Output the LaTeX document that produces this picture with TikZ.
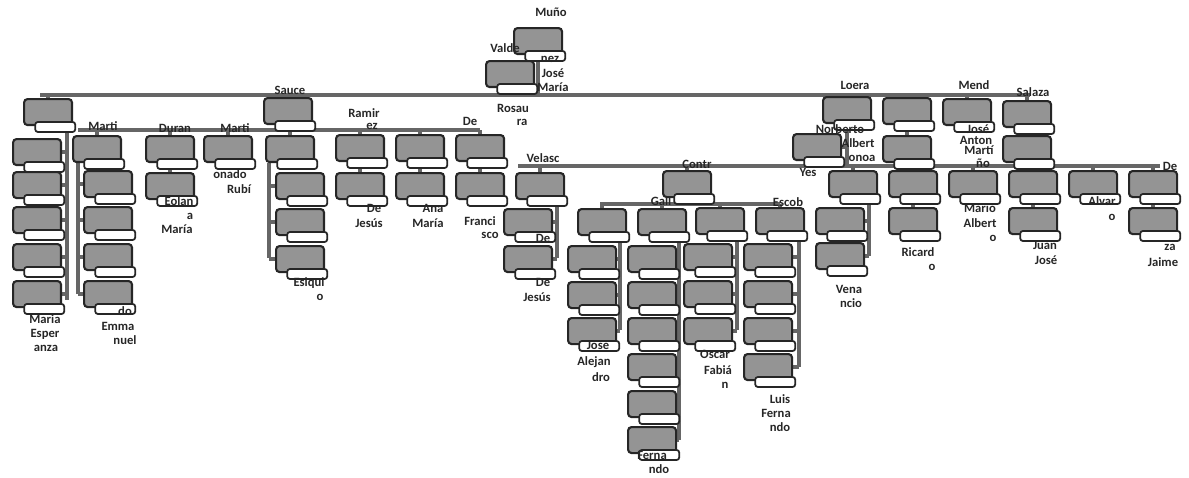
\documentclass[tikz,border=0pt]{standalone}
\usepackage{fontspec}
\setmainfont{Carlito}
\usetikzlibrary{backgrounds,calc}
\tikzset{
 pbox/.style={draw=black!85, line width=1.2pt, fill=black!42, rounded corners=2pt, minimum width=0.96cm, minimum height=0.52cm, inner sep=0pt, anchor=north west},
 sbox/.style={draw=black!85, line width=1pt, fill=white, rounded corners=1.5pt, minimum width=0.8cm, minimum height=0.2cm, inner sep=0pt, anchor=north east},
 conn/.style={draw=black!60, line width=2.2pt},
 lbl/.style={font=\fontsize{7.2}{8}\selectfont\bfseries, text=black!85, inner sep=0pt},
}
\newcommand\bx[3]{\node[pbox] (#1) at (#2,#3) {}; \node[sbox] (#1s) at ([xshift=0.06cm,yshift=0.1cm]#1.south east) {};}
\begin{document}
\begin{tikzpicture}[x=0.02cm,y=-0.02cm]
\useasboundingbox (0,0) rectangle (1189,477);
% root chain
\bx{root}{513}{27}
\bx{asst}{485}{60}
% level 1
\bx{va}{23}{98}
\bx{sa}{263}{97}
\bx{lo}{822}{96}
\bx{ro}{882}{97}
\bx{me}{942}{98}
\bx{sz}{1002}{100}
% bus 2
\bx{ma1}{72}{135}
\bx{du}{145}{135}
\bx{ma2}{203}{135}
\bx{sb}{265}{135}
\bx{ra}{335}{134}
\bx{an}{395}{134}
\bx{de}{455}{134}
% va column
\bx{va1}{12}{138}
\bx{va2}{12}{171}
\bx{va3}{12}{206}
\bx{va4}{12}{243}
\bx{va5}{12}{280}
% ma1 column
\bx{mi1}{83}{170}
\bx{mi2}{83}{206}
\bx{mi3}{83}{243}
\bx{mi4}{83}{280}
\bx{du1}{145}{172}
\bx{sb1}{275}{172}
\bx{sb2}{275}{208}
\bx{sb3}{275}{245}
\bx{ra1}{335}{172}
\bx{an1}{395}{172}
\bx{de1}{455}{172}
\bx{ro1}{882}{135}
\bx{sz1}{1002}{135}
\bx{no}{792}{133}
% bus 3
\bx{ve}{515}{172}
\bx{ve1}{503}{208}
\bx{ve2}{503}{245}
\bx{co}{662}{170}
\bx{di}{577}{208}
\bx{di1}{567}{245}
\bx{di2}{567}{281}
\bx{di3}{567}{317}
\bx{ga}{637}{208}
\bx{ga1}{627}{245}
\bx{ga2}{627}{281}
\bx{ga3}{627}{317}
\bx{ga4}{627}{353}
\bx{ga5}{627}{390}
\bx{ga6}{627}{426}
\bx{mn}{695}{207}
\bx{mn1}{683}{243}
\bx{mn2}{683}{280}
\bx{mn3}{683}{317}
\bx{es}{755}{207}
\bx{es1}{743}{243}
\bx{es2}{743}{280}
\bx{es3}{743}{317}
\bx{es4}{743}{353}
\bx{ye}{828}{170}
\bx{ye1}{815}{207}
\bx{ye2}{815}{242}
\bx{ri}{888}{170}
\bx{ri1}{888}{207}
\bx{fl}{948}{170}
\bx{ju}{1008}{170}
\bx{ju1}{1008}{207}
\bx{al}{1068}{170}
\bx{ja}{1128}{170}
\bx{ja1}{1128}{207}
% connectors
\coordinate (b1L) at (40,95);
\coordinate (b1R) at (1030,95);
\coordinate (b2L) at (78,130);
\coordinate (b2R) at (480,130);
\coordinate (b3L) at (518,166);
\coordinate (b3R) at (1160,166);
\coordinate (b4L) at (600,204);
\coordinate (b4R) at (780,204);
\coordinate (vaL) at (67,300);
\coordinate (m1L) at (78,294);
\coordinate (sbL) at (269,258);
\coordinate (veL) at (557,258);
\coordinate (diL) at (620,330);
\coordinate (gaL) at (679,440);
\coordinate (mnL) at (737,330);
\coordinate (esL) at (799,367);
\coordinate (yeL) at (869,256);
\begin{pgfonlayer}{background}
\draw[conn] (root.south) -- (root.south |- b1L);
\draw[conn] (b1L) -- (b1R);
\foreach \n in {va,sa,lo,ro,me,sz} \draw[conn] (\n.north) -- (\n.north |- b1L);
\draw[conn] (sa.south) -- (sa.south |- b2L);
\draw[conn] (b2L) -- (b2R);
\foreach \n in {ma1,du,ma2,sb,ra,an,de} \draw[conn] (\n.north) -- (\n.north |- b2L);
\draw[conn] (va.south -| vaL) -- (vaL);
\foreach \n in {va1,va2,va3,va4,va5} \draw[conn] (\n.east) -- (\n.east -| vaL);
\draw[conn] (ma1.south -| m1L) -- (m1L);
\foreach \n in {mi1,mi2,mi3,mi4} \draw[conn] (\n.west) -- (\n.west -| m1L);
\draw[conn] (sb.south -| sbL) -- (sbL);
\foreach \n in {sb1,sb2,sb3} \draw[conn] (\n.west) -- (\n.west -| sbL);
\draw[conn] (du.south) -- (du1.north);
\draw[conn] (ra.south) -- (ra1.north);
\draw[conn] (an.south) -- (an1.north);
\draw[conn] (de.south) -- (de1.north);
\draw[conn] (ro.south) -- (ro1.north);
\draw[conn] (sz.south) -- (sz1.north);
\draw[conn] (sz1.south) -- (sz1.south |- b3L);
\draw[conn] (lo.south) -- (lo.south |- b3L);
\draw[conn] (no.east) -- (no.east -| lo.south);
\draw[conn] (b3L) -- (b3R);
\foreach \n in {ve,co,ye,ri,fl,ju,al,ja} \draw[conn] (\n.north) -- (\n.north |- b3L);
\draw[conn] (ve.south -| veL) -- (veL);
\foreach \n in {ve1,ve2} \draw[conn] (\n.east) -- (\n.east -| veL);
\draw[conn] (co.south) -- (co.south |- b4L);
\draw[conn] (b4L) -- (b4R);
\foreach \n in {di,ga,mn,es} \draw[conn] (\n.north) -- (\n.north |- b4L);
\draw[conn] (di.south -| diL) -- (diL);
\foreach \n in {di1,di2,di3} \draw[conn] (\n.east) -- (\n.east -| diL);
\draw[conn] (ga.south -| gaL) -- (gaL);
\foreach \n in {ga1,ga2,ga3,ga4,ga5,ga6} \draw[conn] (\n.east) -- (\n.east -| gaL);
\draw[conn] (mn.south -| mnL) -- (mnL);
\foreach \n in {mn1,mn2,mn3} \draw[conn] (\n.east) -- (\n.east -| mnL);
\draw[conn] (es.south -| esL) -- (esL);
\foreach \n in {es1,es2,es3,es4} \draw[conn] (\n.east) -- (\n.east -| esL);
\draw[conn] (ye.south -| yeL) -- (yeL);
\foreach \n in {ye1,ye2} \draw[conn] (\n.east) -- (\n.east -| yeL);
\draw[conn] (ri.south) -- (ri1.north);
\draw[conn] (ju.south) -- (ju1.north);
\draw[conn] (ja.south) -- (ja1.north);
\end{pgfonlayer}
% labels
\node[lbl] (t1) at (551,12) {Muño};
\node[lbl] (t2) at (505,48) {Valde};
\node[lbl] (t3) at (550,59) {nez};
\node[lbl] (t4) at (553,73) {José};
\node[lbl] (t5) at (553,87) {María};
\node[lbl] (t6) at (513,108) {Rosau};
\node[lbl] (t7) at (522,122) {ra};
\node[lbl] (t8) at (290,90) {Sauce};
\node[lbl] (t9) at (103,126) {Marti};
\node[lbl] (t10) at (175,128) {Duran};
\node[lbl] (t11) at (235,128) {Marti};
\node[lbl] (t12) at (364,113) {Ramir};
\node[lbl] (t13) at (372,126) {ez};
\node[lbl] (t14) at (470,121) {De};
\node[lbl] (t15) at (45,319) {Maria};
\node[lbl] (t16) at (45,334) {Esper};
\node[lbl] (t17) at (46,348) {anza};
\node[lbl] (t18) at (125,311) {do};
\node[lbl] (t19) at (118,326) {Emma};
\node[lbl] (t20) at (125,340) {nuel};
\node[lbl] (t21) at (179,201) {Eolan};
\node[lbl] (t22) at (190,216) {a};
\node[lbl] (t23) at (177,229) {María};
\node[lbl] (t24) at (230,174) {onado};
\node[lbl] (t25) at (239,189) {Rubí};
\node[lbl] (t26) at (309,283) {Esiqui};
\node[lbl] (t27) at (320,297) {o};
\node[lbl] (t28) at (374,208) {De};
\node[lbl] (t29) at (369,223) {Jesús};
\node[lbl] (t30) at (433,208) {Ana};
\node[lbl] (t31) at (428,223) {María};
\node[lbl] (t32) at (480,221) {Franci};
\node[lbl] (t33) at (490,235) {sco};
\node[lbl] (t34) at (543,158) {Velasc};
\node[lbl] (t35) at (543,238) {De};
\node[lbl] (t36) at (543,282) {De};
\node[lbl] (t37) at (537,297) {Jesús};
\node[lbl] (t38) at (697,164) {Contr};
\node[lbl] (t39) at (661,201) {Gall};
\node[lbl] (t40) at (788,202) {Escob};
\node[lbl] (t41) at (598,345) {José};
\node[lbl] (t42) at (594,362) {Alejan};
\node[lbl] (t43) at (601,377) {dro};
\node[lbl] (t44) at (652,455) {Ferna};
\node[lbl] (t45) at (659,469) {ndo};
\node[lbl] (t46) at (715,354) {Oscar};
\node[lbl] (t47) at (718,370) {Fabiá};
\node[lbl] (t48) at (725,385) {n};
\node[lbl] (t49) at (780,399) {Luis};
\node[lbl] (t50) at (776,413) {Ferna};
\node[lbl] (t51) at (780,427) {ndo};
\node[lbl] (t52) at (855,85) {Loera};
\node[lbl] (t53) at (840,129) {Norberto};
\node[lbl] (t54) at (858,143) {Albert};
\node[lbl] (t55) at (862,158) {onoa};
\node[lbl] (t56) at (808,172) {Yes};
\node[lbl] (t57) at (849,289) {Vena};
\node[lbl] (t58) at (851,303) {ncio};
\node[lbl] (t59) at (918,252) {Ricard};
\node[lbl] (t60) at (932,267) {o};
\node[lbl] (t61) at (974,85) {Mend};
\node[lbl] (t62) at (1033,92) {Salaza};
\node[lbl] (t63) at (978,129) {José};
\node[lbl] (t64) at (976,140) {Anton};
\node[lbl] (t65) at (979,150) {Martí};
\node[lbl] (t66) at (983,163) {ño};
\node[lbl] (t67) at (980,208) {Mario};
\node[lbl] (t68) at (980,223) {Albert};
\node[lbl] (t69) at (993,238) {o};
\node[lbl] (t70) at (1045,245) {Juan};
\node[lbl] (t71) at (1046,260) {José};
\node[lbl] (t72) at (1102,201) {Alvar};
\node[lbl] (t73) at (1112,217) {o};
\node[lbl] (t74) at (1170,166) {De};
\node[lbl] (t75) at (1170,247) {za};
\node[lbl] (t76) at (1163,262) {Jaime};
\end{tikzpicture}
\end{document}
